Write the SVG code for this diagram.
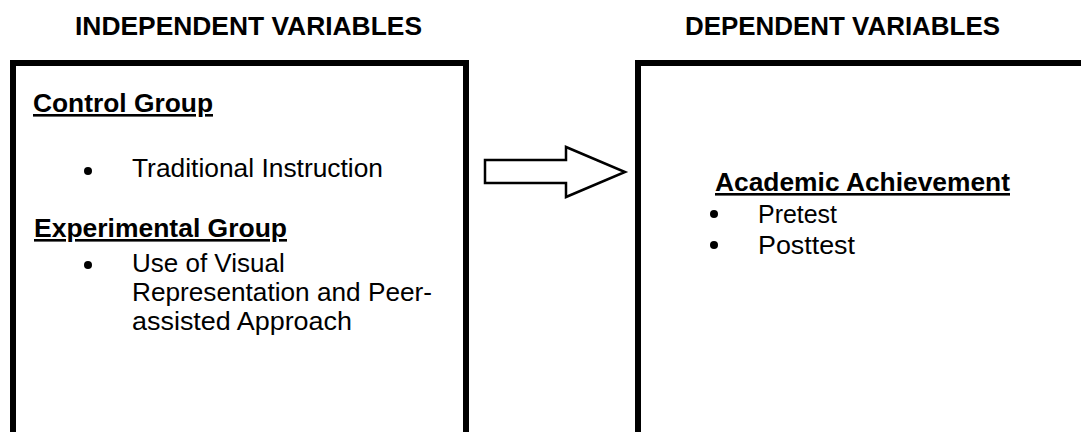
<svg xmlns="http://www.w3.org/2000/svg" width="1081" height="432" viewBox="0 0 1081 432">
<style>
.box{fill:none;stroke:#000;stroke-width:6}
.hd{font-family:"Liberation Sans",Arial,sans-serif;font-size:26px;font-weight:bold;fill:#000}
.sub{font-family:"Liberation Sans",Arial,sans-serif;font-size:26px;font-weight:bold;fill:#000;text-decoration:underline}
.tx{font-family:"Liberation Sans",Arial,sans-serif;font-size:26px;fill:#000}
.bul{fill:#000}
.arrow{fill:#fff;stroke:#000;stroke-width:2.5;stroke-linejoin:miter}
</style>
<rect width="1081" height="432" fill="#fff"/>
<text class="hd" x="75" y="35" textLength="347" lengthAdjust="spacingAndGlyphs">INDEPENDENT VARIABLES</text>
<text class="hd" x="685" y="35" textLength="315" lengthAdjust="spacingAndGlyphs">DEPENDENT VARIABLES</text>
<g id="independent">
<rect class="box" x="13" y="63" width="453" height="372"/>
<text class="sub" x="33" y="112" textLength="180" lengthAdjust="spacingAndGlyphs">Control Group</text>
<circle class="bul" cx="88" cy="171" r="4"/>
<text class="tx" x="132" y="177" textLength="251" lengthAdjust="spacingAndGlyphs">Traditional Instruction</text>
<text class="sub" x="34" y="237" textLength="253" lengthAdjust="spacingAndGlyphs">Experimental Group</text>
<circle class="bul" cx="88" cy="265" r="4"/>
<text class="tx" x="132" y="272">Use of Visual</text>
<text class="tx" x="132" y="301" textLength="300" lengthAdjust="spacingAndGlyphs">Representation and Peer-</text>
<text class="tx" x="132" y="330" textLength="220" lengthAdjust="spacingAndGlyphs">assisted Approach</text>
</g>
<g id="connectors">
<polygon class="arrow" points="485,160 566,160 566,147 625,172 566,197 566,183 485,183"/>
</g>
<g id="dependent">
<rect class="box" x="638" y="63" width="460" height="372"/>
<text class="sub" x="715" y="191" textLength="295" lengthAdjust="spacingAndGlyphs">Academic Achievement</text>
<circle class="bul" cx="714" cy="214" r="4"/>
<text class="tx" x="758" y="223" textLength="79" lengthAdjust="spacingAndGlyphs">Pretest</text>
<circle class="bul" cx="714" cy="245" r="4"/>
<text class="tx" x="758" y="254" textLength="97" lengthAdjust="spacingAndGlyphs">Posttest</text>
</g>
</svg>
